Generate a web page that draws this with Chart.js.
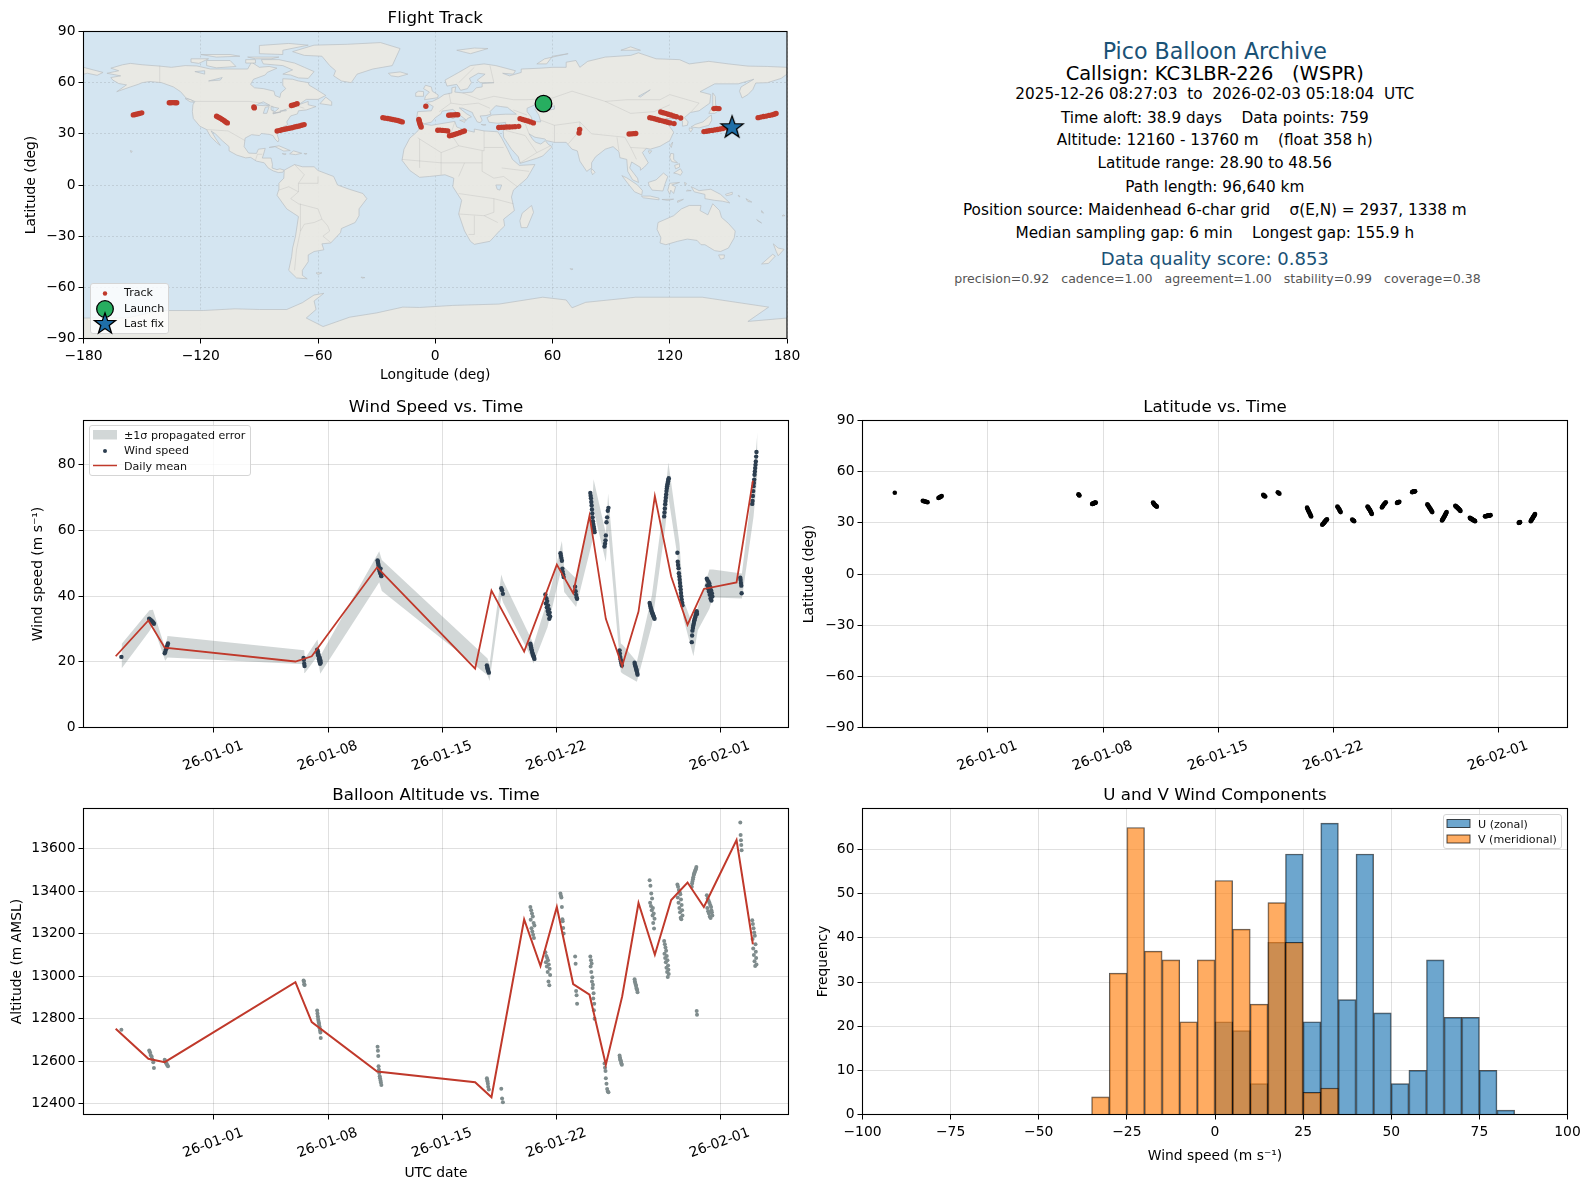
<!DOCTYPE html>
<html>
<head>
<meta charset="utf-8">
<title>Pico Balloon Archive</title>
<script src="https://cdn.jsdelivr.net/npm/chart.js@4/dist/chart.umd.js"></script>
<style>
  html, body { margin: 0; padding: 0; background: #fff; }
  body { position: relative; width: 1590px; height: 1189px; overflow: hidden; font-family: "DejaVu Sans", sans-serif; color: #000; }
  canvas { position: absolute; }
  .info { position: absolute; transform: translate(-50%, -50%); white-space: pre; }
  .legend { position: absolute; background: rgba(255,255,255,0.8); border: 1px solid #d5d5d5; border-radius: 3px; box-sizing: border-box; z-index: 5; }
  .legend span { position: absolute; font-size: 11.1px; line-height: 14px; white-space: pre; color: #111; }
  .legend svg { position: absolute; left: 0; top: 0; overflow: visible; }
</style>
</head>
<body>
<canvas id="mapChart" width="800" height="385" style="left:0;top:0"></canvas>
<canvas id="windChart" width="800" height="385" style="left:0;top:395px"></canvas>
<canvas id="latChart" width="790" height="385" style="left:800px;top:395px"></canvas>
<canvas id="altChart" width="800" height="409" style="left:0;top:780px"></canvas>
<canvas id="histChart" width="790" height="409" style="left:800px;top:780px"></canvas>

<div class="legend" style="left:90px;top:283px;width:79px;height:51px">
  <svg width="79" height="51">
    <circle cx="14" cy="9.5" r="2.2" fill="#c0392b"/>
    <circle cx="14" cy="25" r="8.3" fill="#27ae60" stroke="#000" stroke-width="1.3"/>
    <polygon points="14,29 16.6,36.4 24.5,36.6 18.2,41.4 20.5,49 14,44.5 7.5,49 9.8,41.4 3.5,36.6 11.4,36.4" fill="#1f6fa8" stroke="#000" stroke-width="1.3"/>
  </svg>
  <span style="left:33px;top:2px">Track</span>
  <span style="left:33px;top:18px">Launch</span>
  <span style="left:33px;top:33px">Last fix</span>
</div>
<div class="legend" style="left:89px;top:425px;width:162px;height:51px">
  <svg width="162" height="51">
    <rect x="3" y="4" width="24" height="9.5" fill="rgba(127,140,141,0.35)"/>
    <circle cx="15" cy="25" r="2" fill="#2c3e50"/>
    <line x1="3" y1="39.5" x2="27" y2="39.5" stroke="#c0392b" stroke-width="1.5"/>
  </svg>
  <span style="left:34px;top:3px">±1σ propagated error</span>
  <span style="left:34px;top:18px">Wind speed</span>
  <span style="left:34px;top:34px">Daily mean</span>
</div>
<div class="legend" style="left:1443px;top:814px;width:119px;height:35px">
  <svg width="119" height="35">
    <rect x="3" y="4.5" width="23" height="8" fill="rgba(31,119,180,0.65)" stroke="rgba(0,0,0,0.7)"/>
    <rect x="3" y="20" width="23" height="8" fill="rgba(255,127,14,0.65)" stroke="rgba(0,0,0,0.7)"/>
  </svg>
  <span style="left:34px;top:3px">U (zonal)</span>
  <span style="left:34px;top:18px">V (meridional)</span>
</div>

<script>
// text block, top right
const infoLines = [
  ["Pico Balloon Archive", 50.7, 22.2, "#1a5276", 1214.8],
  ["Callsign: KC3LBR-226   (WSPR)", 73, 19.44, "#000", 1214.8],
  ["2025-12-26 08:27:03  to  2026-02-03 05:18:04  UTC", 94.4, 15.28, "#000", 1214.8],
  ["Time aloft: 38.9 days    Data points: 759", 117.8, 15.28, "#000", 1214.8],
  ["Altitude: 12160 - 13760 m    (float 358 h)", 140, 15.28, "#000", 1214.8],
  ["Latitude range: 28.90 to 48.56", 163.4, 15.28, "#000", 1214.8],
  ["Path length: 96,640 km", 186.8, 15.28, "#000", 1214.8],
  ["Position source: Maidenhead 6-char grid    σ(E,N) = 2937, 1338 m", 210, 15.28, "#000", 1214.8],
  ["Median sampling gap: 6 min    Longest gap: 155.9 h", 233.4, 15.28, "#000", 1214.8],
  ["Data quality score: 0.853", 257.8, 18.05, "#1a5276", 1214.8],
  ["precision=0.92   cadence=1.00   agreement=1.00   stability=0.99   coverage=0.38", 278, 12.55, "#555", 1217.5],
];

// date axis: days counted from 2026-01-01
const dateTicks = [0, 7, 14, 21, 31];
const dateLabels = ["26-01-01", "26-01-08", "26-01-15", "26-01-22", "26-02-01"];

// samples, one line per flight segment
const sampleDays = [
  -5.65,
  -3.95, -3.9, -3.86, -3.8, -3.76, -3.7, -3.66,
  -3.0, -2.96, -2.92, -2.88, -2.84, -2.8,
  5.5, 5.52, 5.54, 5.56,
  6.33, 6.35, 6.37, 6.39, 6.41, 6.43, 6.45, 6.47, 6.49, 6.51, 6.53, 6.55,
  10.03, 10.05, 10.07, 10.09, 10.11, 10.13, 10.16, 10.18, 10.21, 10.23, 10.26,
  16.72, 16.74, 16.76, 16.78, 16.8, 16.84,
  17.6, 17.65, 17.7,
  19.38, 19.4, 19.43, 19.45, 19.48, 19.5, 19.53, 19.55, 19.58, 19.6, 19.63,
  20.3, 20.33, 20.36, 20.39, 20.41, 20.44, 20.46, 20.49, 20.51, 20.54, 20.56, 20.59,
  21.22, 21.25, 21.28, 21.31, 21.34, 21.36, 21.39, 21.42,
  22.12, 22.15, 22.18, 22.21, 22.24,
  23.05, 23.07, 23.09, 23.11, 23.13, 23.15, 23.17, 23.19, 23.21, 23.23, 23.25, 23.27, 23.29, 23.31,
  23.92, 23.95, 23.98, 24, 24.04, 24.08, 24.12, 24.16,
  24.84, 24.86, 24.88, 24.9, 24.93, 24.95, 24.98,
  25.76, 25.78, 25.8, 25.83, 25.85, 25.87, 25.89, 25.92, 25.94,
  26.68, 26.71, 26.73, 26.76, 26.78, 26.81, 26.83, 26.86, 26.88, 26.9, 26.93, 26.95, 26.98,
  27.57, 27.59, 27.61, 27.63, 27.65, 27.67, 27.69, 27.71, 27.73, 27.75, 27.77, 27.79, 27.81, 27.83, 27.85,
  28.38, 28.4, 28.42, 28.45, 28.47, 28.5, 28.52, 28.54, 28.56, 28.58, 28.6, 28.62, 28.64, 28.67, 28.69,
  29.26, 29.28, 29.3, 29.33, 29.35, 29.38, 29.4, 29.42, 29.44, 29.47, 29.49, 29.52, 29.54, 29.56, 29.58,
  30.18, 30.21, 30.23, 30.26, 30.29, 30.31, 30.34, 30.36, 30.39, 30.41, 30.44, 30.46, 30.49, 30.52,
  32.23, 32.25, 32.27, 32.29, 32.31,
  32.96, 32.98, 33, 33.02, 33.04, 33.06, 33.08, 33.1, 33.12, 33.14, 33.16, 33.18, 33.2, 33.22,
];
const sampleWind = [
  21.5,
  33.1, 32.9, 32.7, 32.5, 32.2, 32.0, 31.6,
  22.6, 23.1, 23.8, 24.4, 25.0, 25.6,
  21.2, 20.6, 19.4, 18.7,
  23.7, 22.8, 23.2, 21.9, 22.3, 20.9, 21.5, 20.1, 21.2, 19.4, 20.5, 19.7,
  50.9, 50.4, 49.9, 49.3, 48.7, 48.2, 47.6, 47.1, 48.4, 46.6, 46.1,
  18.9, 18.4, 18, 17.6, 17.2, 16.7,
  42.4, 41.8, 40.7,
  25.5, 25, 24.4, 23.8, 23.3, 22.8, 22.4, 22, 21.7, 21.3, 20.9,
  40.5, 37.8, 39.4, 36.6, 38.5, 35.5, 37.2, 34.5, 36, 33.1, 35, 33.8,
  53.1, 52.3, 51.6, 50.8, 48.4, 47.4, 46.6, 45.8,
  42.9, 41.5, 40.4, 39.6, 39.2,
  71.4, 70.6, 69.8, 68.7, 67.6, 66.4, 65.2, 64, 62.8, 62, 61.3, 60.7, 60.1, 59.5,
  55.1, 56, 57, 58.5, 62.5, 64, 66, 66.9,
  23.5, 22.5, 21.5, 20.8, 20.2, 19.5, 18.9,
  19.7, 19.2, 18.8, 18.4, 18, 17.6, 17.2, 16.6, 16.1,
  37.9, 37.3, 36.8, 36.3, 35.8, 35.4, 35, 34.7, 34.4, 34.1, 33.8, 33.5, 33.1,
  64.3, 65.5, 66.7, 68, 69, 70, 71, 72, 72.8, 73.5, 74, 74.5, 75, 75.5, 75.9,
  53.2, 50.5, 49.5, 48.5, 47, 46, 45, 44, 43, 42, 41, 40, 39, 38, 37.2,
  26, 28, 29.5, 30.3, 31, 31.6, 32.2, 32.7, 33.1, 33.5, 34, 34.4, 35, 35.4, 34.6,
  45.3, 43.3, 44.8, 42.3, 44.3, 41.4, 43.8, 40.4, 42.8, 39.3, 41.8, 38.7, 40.9, 39.9,
  45.6, 44.9, 44, 43.2, 40.9,
  68.1, 69, 70.5, 72, 73.5, 74.5, 75.5, 77, 78, 79, 80, 81, 82.5, 83.9,
];
const sampleAlt = [
  12748,
  12651, 12642, 12630, 12622, 12610, 12595, 12568,
  12607, 12600, 12592, 12588, 12582, 12577,
  12980, 12975, 12962, 12958,
  12839, 12825, 12812, 12800, 12790, 12782, 12775, 12765, 12755, 12745, 12735, 12709,
  12668, 12650, 12625, 12577, 12560, 12545, 12530, 12520, 12510, 12500, 12489,
  12520, 12512, 12505, 12495, 12480, 12467,
  12471, 12425, 12408,
  13325, 13265, 13310, 13225, 13295, 13210, 13280, 13195, 13250, 13179, 13238,
  13113, 13065, 13095, 13045, 13085, 13020, 13075, 12975, 13055, 12957, 13035, 13005,
  13388, 13378, 13370, 13325, 13267, 13258, 13226, 13200,
  13093, 13059, 12930, 12910, 12871,
  13093, 13045, 13075, 13020, 13060, 12975, 12995, 12945, 12960, 12895, 12920, 12840, 12870, 12800,
  12590, 12570, 12555, 12520, 12495, 12470, 12458, 12455,
  12627, 12618, 12610, 12605, 12598, 12590, 12584,
  12985, 12975, 12968, 12960, 12955, 12945, 12940, 12935, 12925,
  13451, 13345, 13425, 13330, 13388, 13310, 13365, 13285, 13320, 13250, 13295, 13224, 13270,
  13165, 13105, 13150, 13085, 13135, 13065, 13120, 13040, 13095, 13020, 13075, 12996, 13050, 13030, 13010,
  13431, 13370, 13420, 13345, 13405, 13320, 13395, 13300, 13385, 13275, 13360, 13267, 13335, 13310, 13285,
  13420, 13435, 13445, 13455, 13465, 13475, 13480, 13485, 13490, 13495, 13500, 13505, 13513, 12836, 12819,
  13380, 13320, 13365, 13305, 13355, 13295, 13345, 13280, 13335, 13274, 13325, 13310, 13300, 13285,
  13722, 13663, 13639, 13616, 13592,
  13263, 13175, 13245, 13130, 13225, 13100, 13205, 13070, 13190, 13048, 13150, 13115, 13085, 13055,
];
const sampleLat = [
  47.6,
  42.9, 42.8, 42.6, 42.5, 42.4, 42.2, 42.1,
  44.6, 44.8, 45, 45.2, 45.4, 45.7,
  46.7, 46.5, 46.2, 46,
  41, 41.1, 41.2, 41.3, 41.4, 41.5, 41.6, 41.7, 41.7, 41.8, 41.8, 41.9,
  41.9, 41.6, 41.3, 41, 40.7, 40.5, 40.3, 40.1, 39.9, 39.7, 39.5,
  46.4, 46.2, 46, 45.8, 45.6, 45.4,
  47.9, 47.5, 47.1,
  38.9, 38.4, 37.8, 37.3, 36.8, 36.3, 35.8, 35.3, 34.7, 34.2, 33.7,
  28.9, 29.2, 29.5, 29.8, 30.1, 30.4, 30.7, 31, 31.3, 31.6, 31.8, 32,
  39.6, 39.1, 38.7, 38.2, 37.8, 37.3, 36.8, 36.3,
  31.9, 31.6, 31.4, 31.2, 31,
  39.6, 39.3, 39, 38.7, 38.4, 38.1, 37.8, 37.5, 37.2, 36.8, 36.4, 36, 35.6, 35.2,
  39, 39.4, 39.8, 40.2, 40.7, 41.1, 41.6, 42,
  41.7, 41.8, 41.9, 42, 42.1, 42.2, 42.3,
  48, 48.1, 48.2, 48.3, 48.3, 48.4, 48.4, 48.5, 48.56,
  40.8, 40.4, 40.1, 39.7, 39.3, 38.9, 38.5, 38.2, 37.9, 37.5, 37.1, 36.7, 36.3,
  31.4, 31.7, 32, 32.3, 32.7, 33, 33.3, 33.7, 34, 34.4, 34.8, 35.2, 35.5, 35.9, 36.3,
  40, 39.8, 39.6, 39.4, 39.2, 39, 38.8, 38.6, 38.4, 38.2, 38, 37.8, 37.6, 37.3, 37,
  33, 32.8, 32.6, 32.5, 32.3, 32.2, 32, 31.9, 31.8, 31.6, 31.5, 31.4, 31.2, 31.1, 31,
  33.8, 33.9, 33.9, 34, 34, 34.1, 34.1, 34.2, 34.2, 34.3, 34.3, 34.4, 34.4, 34.5,
  30, 30.1, 30.2, 30.3, 30.4,
  31, 31.3, 31.6, 31.9, 32.2, 32.6, 32.9, 33.2, 33.5, 33.8, 34.1, 34.4, 34.8, 35.2,
];

// daily means
const meanDays = [-6, -4, -3, 5, 6, 10, 16, 17, 19, 20, 21, 22, 23, 24, 25, 26, 27, 28, 29, 30, 32, 33];
const meanWind = [21.7, 32.6, 24.3, 20.1, 21.7, 48.8, 17.9, 41.7, 23.1, 36.3, 49.6, 40.9, 64.5, 33.1, 18.7, 35.3, 70.5, 46.0, 31.3, 42.2, 44.2, 75.2];
const meanAlt = [12753, 12612, 12596, 12972, 12784, 12552, 12502, 12431, 13267, 13048, 13325, 12963, 12913, 12584, 12905, 13344, 13101, 13358, 13440, 13325, 13640, 13150];

// +-1 sigma band around the wind samples
const bandDays = [-5.64, -3.93, -3.72, -2.97, -2.83, 5.54, 5.58, 6.35, 6.52, 10.13, 10.29, 16.76, 16.88, 17.6, 17.72, 19.47, 19.57, 20.43, 20.63, 21.31, 21.45, 22.18, 23.16, 23.25, 24.0, 24.14, 24.92, 25.04, 25.9, 26.82, 27.63, 27.83, 28.51, 28.75, 29.36, 29.63, 30.34, 30.55, 32.33, 33.04, 33.28];
const bandHigh = [25.4, 35.7, 35.9, 24.1, 27.9, 23.5, 21.0, 26.8, 21.8, 53.7, 51.0, 21.0, 19.0, 46.6, 44.7, 26.6, 25.1, 38.8, 42.3, 56.8, 48.9, 45.4, 67.2, 75.6, 59.1, 71.3, 25.6, 25.1, 20, 40.3, 71.3, 80.7, 56, 38.8, 30.6, 36.7, 48.1, 48.1, 46.9, 76.3, 89.9];
const bandLow = [18.0, 29.4, 31.2, 20.3, 21.3, 19.3, 16.6, 21.7, 16.4, 44.2, 41.6, 15.9, 14.2, 39.8, 38.0, 21.0, 19.5, 30.5, 34.7, 48.9, 41.3, 36.7, 56.5, 66.2, 50.4, 60.1, 16.9, 16.4, 13.9, 31.2, 60.6, 70.2, 47.9, 33.2, 21.7, 29.6, 36.2, 39.6, 39.3, 64.2, 77.4];

// flight track on the map
const trackLon = [
  -154.5, -153.5, -152.5, -151.4, -150.2,
  -136.1, -135.2, -134.2, -133.2, -132.3,
  -111.9, -111, -110, -109, -108, -107.2, -106.4,
  -92.8, -92.6,
  -73.6, -72.6, -71.6, -70.7,
  -80.9, -79.6, -78.4, -77.1, -75.9, -74.6, -73.3, -72, -70.8, -69.6, -68.3, -67.1,
  -26.8, -25.6, -24.3, -23, -21.8, -20.5, -19.2, -18, -16.9,
  -8.4, -8.2, -8, -7.8, -7.5, -7.2,
  -4.8,
  1.3, 2.5, 3.8, 5.1, 6.4, 7.3, 8.5, 9.8, 11, 12.5, 13.8, 14.9,
  6.9, 8, 9.2, 10.4, 11.5,
  32.5, 33.8, 35.2, 36.6, 38, 39.4, 40.8, 42.7,
  43.4, 44.7, 46, 47.4, 48.8, 50.2,
  73.6, 73.9,
  99.2, 100.4, 101.5, 102.6,
  109.8, 111, 112.2, 113.5, 114.8, 116.2, 117.5, 118.8, 120.2, 122.2,
  115.4, 116.6, 117.9, 119.2, 120.6, 122, 123.4, 125.6,
  142.6, 143.9, 145.2,
  137.5, 138.9, 140.2, 141.6, 143, 144.4, 145.8, 147.2, 149.4,
  165.2, 166.6, 168, 169.4, 170.8, 172.2, 173.4, 174.4,
];
const trackLat = [
  41.1, 41.3, 41.6, 41.9, 42.3,
  48.2, 48.2, 48.3, 48.2, 48.2,
  40.3, 39.7, 39.1, 38.4, 37.7, 37, 36.4,
  45.7, 45.2,
  46.6, 46.9, 47.3, 47.7,
  31.7, 32, 32.4, 32.7, 33, 33.3, 33.6, 34, 34.3, 34.6, 35, 35.4,
  39.5, 39.2, 39, 38.7, 38.4, 38.1, 37.8, 37.4, 37,
  38.4, 37.5, 36.6, 35.8, 34.9, 34,
  46.2,
  32.1, 32.2, 32, 31.9, 31.7, 28.9, 29.2, 29.6, 30.1, 30.6, 31.2, 31.7,
  40.9, 41, 41.1, 41.2, 41.2,
  33.7, 33.8, 33.9, 34, 34, 34.1, 34.2, 34.4,
  38.9, 38.4, 38, 37.5, 37, 36.4,
  30.5, 32.6,
  29.9, 30, 30.1, 30.2,
  39.5, 39.2, 38.8, 38.4, 38, 37.6, 37.2, 36.8, 36.4, 36,
  42.8, 42.4, 42, 41.5, 41, 40.5, 40, 39.3,
  44.8, 44.9, 44.8,
  31.3, 31.5, 31.8, 32, 32.3, 32.5, 32.8, 33.1, 33.4,
  39.5, 39.8, 40.2, 40.4, 40.8, 41.1, 41.5, 41.9,
];
const launchLon = [55.4];
const launchLat = [47.7];
const lastFixLon = [151.9];
const lastFixLat = [34.0];

// map axis ticks
const lonTicks = [-180, -120, -60, 0, 60, 120, 180];
const latTicks = [-90, -60, -30, 0, 30, 60, 90];
const windTicks = [0, 20, 40, 60, 80];
const altTicks = [12400, 12600, 12800, 13000, 13200, 13400, 13600];
const histXTicks = [-100, -75, -50, -25, 0, 25, 50, 75, 100];
const histYTicks = [0, 10, 20, 30, 40, 50, 60];

// histogram, 5 m/s bins
const uBinCentres = [2.5, 7.5, 12.5, 17.5, 22.5, 27.5, 32.5, 37.5, 42.5, 47.5, 52.5, 57.5, 62.5, 67.5, 72.5, 77.5, 82.5];
const uCounts = [21, 19, 7, 39, 59, 21, 66, 26, 59, 23, 7, 10, 35, 22, 22, 10, 1];
const vBinCentres = [-32.5, -27.5, -22.5, -17.5, -12.5, -7.5, -2.5, 2.5, 7.5, 12.5, 17.5, 22.5, 27.5, 32.5];
const vCounts = [4, 32, 65, 37, 35, 21, 35, 53, 42, 25, 48, 39, 5, 6];

// coastlines as [lon, lat]
const landPolygons = [
  // north america
  [[-168,65.5],[-164,66.5],[-162,67],[-166,68.5],[-160,70.5],[-156,71.3],[-150,70.5],[-141,69.7],[-135,69],[-128,70],[-122,69.8],[-115,68],[-108,68],[-100,68],[-96,68],[-94,72],[-90,69],[-85,69.5],[-81,68.5],[-86,66],[-87,64.5],[-93,62],[-94.5,59],[-92.5,57],[-88,56.5],[-82.5,55],[-82,52.5],[-79.5,51.3],[-79,54],[-76.5,56.5],[-78,58.5],[-78,62.3],[-73,62],[-70,61],[-65,60],[-64.5,58.5],[-61.5,56.5],[-56,52.5],[-60,50.2],[-66,50.2],[-70,47],[-65,49],[-65,47],[-61,46],[-66,44],[-70,43.5],[-70.5,41.7],[-74,40.5],[-76,37],[-75.5,35.3],[-79,33.5],[-81.3,31],[-80,26.5],[-80.5,25.2],[-82,27],[-83,29],[-85,29.7],[-89,30.2],[-90,29],[-94,29.5],[-97.3,27.5],[-97.8,22.5],[-95.5,18.7],[-91.5,18.5],[-90.5,21],[-87,21.5],[-88,17.5],[-88.5,15.8],[-84,15.8],[-83.3,12],[-83.5,10],[-81,9],[-79.5,9.5],[-77.3,8.7],[-78,7.5],[-80.3,7.3],[-83,8.3],[-85.5,10],[-87.5,13],[-91.5,14],[-94.5,16.2],[-97,15.9],[-101.5,17.5],[-105.5,20],[-105.5,22.5],[-109,26],[-112.5,30],[-114.7,31.7],[-112.5,27.5],[-110,23.2],[-112,25],[-115,28.5],[-117,32.5],[-120.5,34.5],[-123.8,39],[-124.3,43],[-124,47],[-123,49],[-127.5,51],[-130.3,54.7],[-134,57.5],[-140,60],[-146,60.7],[-150,60],[-152,59],[-156,57.5],[-163,54.7],[-158,58.7],[-162,59.5],[-165,61.5],[-166,63],[-161,64],[-168,65.5]],
  // arctic canada, greenland
  [[-80,73.5],[-72,71.5],[-67,69],[-62,66.5],[-65,62.5],[-70,62.8],[-74,64.5],[-78,65],[-73,67.5],[-78,70],[-88,71],[-89,73.5],[-80,73.5]],
  [[-117,73],[-105,73],[-102,69.5],[-112,68.7],[-117,70],[-117,73]],
  [[-125,74],[-116,74],[-121,71.3],[-125,72],[-125,74]],
  [[-90,77],[-78,76.5],[-78,79],[-65,82],[-75,83],[-90,81.8],[-90,77]],
  [[-96,75],[-80,75],[-84,74],[-92,74],[-96,75]],
  [[-120,76.5],[-105,76.5],[-100,75.5],[-112,75],[-120,76.5]],
  [[-97,73.5],[-92,73.5],[-92,71.5],[-97,71.5]],
  [[-73,78.2],[-67,76],[-58,75.5],[-54,70],[-51,67],[-52,64],[-48,61],[-43,60],[-40,65],[-32,68],[-22,70],[-20,75],[-18,80],[-28,83.5],[-45,82.5],[-62,82],[-73,78.2]],
  [[-59,47.7],[-53,46.7],[-53,48.8],[-56,51.5],[-59,47.7]],
  [[-128,50.7],[-125,50],[-123.5,48.5],[-125.5,48.8]],
  // caribbean, hawaii, chukotka tip
  [[-85,22],[-80,23],[-74.2,20.2],[-77.5,19.9],[-82,22.5],[-85,22]],
  [[-74.5,18.3],[-72.5,20],[-68.3,18.6],[-71.5,17.8]],
  [[-78.3,18.4],[-76.3,18.2],[-77,17.8]],
  [[-67.2,18.5],[-65.6,18.4],[-66.5,18]],
  [[-156,20.2],[-155,19.7],[-155.7,19]],
  [[-180,69],[-175,67.5],[-170,66],[-173,64.3],[-178,65.5],[-180,65]],
  // south america
  [[-77.3,8.7],[-72,12],[-68,10.7],[-62,10.7],[-60,8.5],[-52,5],[-50,0],[-44,-2.5],[-37,-5],[-35,-8],[-39,-14],[-39,-18],[-41,-22],[-48,-25.5],[-48.5,-28],[-53.5,-34],[-58,-34.5],[-57,-38],[-62,-39],[-65,-41],[-65,-45],[-68,-50],[-68,-53],[-65.5,-55],[-71,-54.5],[-75,-50],[-73.5,-42],[-73,-37],[-71.5,-30],[-70,-18.5],[-76,-14],[-81,-6],[-80,-2.5],[-80,1],[-77.5,4],[-77.3,8.7]],
  [[-61,-51.5],[-58,-51.5],[-60,-52.5]],
  // africa, madagascar
  [[-6,35.8],[-2,35],[10,37.3],[11,34],[15,32.3],[20,31],[20,32.8],[25,31.7],[32,31.2],[34,27.5],[37,21],[39.5,15],[43,11.5],[51,12],[47,4],[40,-3],[39,-7],[40.5,-15],[35,-20],[35.5,-24],[32.8,-27],[28,-33],[20,-34.8],[18,-33],[15,-27],[12,-17],[13.5,-9],[9,-1],[9.5,4],[5,6],[-3,5],[-8,4.5],[-13,8.5],[-17,14.5],[-16,21],[-13,27.5],[-9.5,31],[-6,35.8]],
  [[49.3,-12],[50.3,-16],[47,-25],[44,-25],[43.3,-21],[44.5,-16.5],[49.3,-12]],
  // eurasia
  [[-5.5,36],[-9,37],[-9.5,39],[-9,43],[-2,43.5],[-1,46],[-4.5,48.5],[-1.5,49],[2,51],[4.5,53],[8.5,54],[8.5,57],[10.5,57.5],[10,54.5],[14,54],[19,54.5],[21,57],[24,57.5],[24,59.5],[30,60],[23,60],[21.5,61.5],[25.5,65],[22,65.5],[17.5,62.5],[18.5,60],[16.5,56.5],[13,55.5],[11,59],[6,58],[5,61.5],[12,66],[18,70],[25,71],[31,70],[41,67],[40,65],[34.5,65.5],[38,64],[44,66],[44,68],[54,68.5],[60,69],[67,69],[67,72],[72,73],[74,69],[78,72.5],[87,75],[100,76],[104,77.5],[113,74],[125,73.5],[130,71],[140,72.5],[150,71],[160,69.7],[170,69.5],[180,69],[180,65],[177,62.5],[170,60],[164,59.8],[162.5,56],[160,53],[157,51],[155.7,55],[156.5,57.5],[163,62],[155,59.3],[143,59.3],[135.5,54.7],[141,53],[140.5,48],[135,43.5],[130.5,42.5],[127.5,39.5],[129.4,37],[129,35],[126.5,34.5],[126.5,37.5],[124.5,40],[121.5,39],[118,39],[120,37.5],[122.5,37],[119.5,35],[122,31],[120,26],[115,22.7],[110,21],[108,21.5],[106,19],[109,13],[107,10.5],[105,8.7],[105,10.3],[100.5,13.5],[99.5,10],[103.5,4],[104,1.5],[101,3],[98.5,8],[98,15],[94.5,16],[94,19.5],[91,22.5],[87,21],[82,16.5],[80,13],[80,10],[77.5,8],[74,14],[72.7,20],[70,21],[67,25],[61,25],[57,26],[56,27],[51,28],[48,30],[50,26.5],[51.5,25],[54,24],[56.3,26],[58,23.7],[59.8,22.5],[55,17],[52,15.7],[43.5,12.7],[42.5,16.5],[39,21],[35,28],[34.8,31.5],[36,34],[36,36.7],[32,36.2],[27.5,36.8],[26.5,39.5],[29,41],[31,41.2],[36,41.5],[41.5,41.5],[38,44.5],[37,45.5],[33.5,46],[31,46.5],[28,43],[28.5,41.5],[26,40.7],[23,40.5],[24,38],[23,36.5],[21.5,37],[19.5,41],[19,42.5],[14,45],[12.3,45.2],[16,41.8],[18.5,40],[16.5,39],[16,38],[12.5,41],[9,44.3],[3.5,43.3],[3,41.8],[0,39.5],[-2,36.8],[-5.5,36]],
  // europe islands
  [[-5.5,50],[1.3,51.2],[1.5,52.8],[-1.5,55],[-2,57.5],[-5,58.5],[-6,56.5],[-3,54.5],[-5,52],[-5.5,50]],
  [[-10,52],[-6,52],[-6,54.8],[-8.5,55],[-10,54],[-10,52]],
  [[-24,65.5],[-18,66.3],[-14,65],[-19,63.4],[-22.5,64],[-24,65.5]],
  [[11,79],[20,80.3],[27,80],[18,77],[11,79]],
  [[52,71],[56,74],[68,77],[60,75.5],[57,71],[52,71]],
  [[95,79],[105,79],[100,81]],
  [[8.3,41],[9.7,41],[9.5,39],[8.5,39]],
  [[12.5,38],[15.5,38.2],[15,36.7]],
  [[23.5,35.5],[26,35.3],[24.8,35]],
  [[32.4,35],[34.5,35.5],[33.5,34.6]],
  // east asia islands
  [[130.9,34],[135,33.5],[140,35],[141.5,38],[141.3,41],[140,40],[137,37],[133,35.5],[130.9,34]],
  [[140,42],[141.5,45.3],[145,43.5],[143,42],[140,42]],
  [[130,33.5],[131.8,33],[130.7,31],[130,32.5]],
  [[142,54],[143.3,52],[143.5,46.5],[142,46],[142,50],[142,54]],
  [[120.2,23],[121.5,25.2],[120.8,22]],
  [[109,20],[110.8,20],[109.7,18.3]],
  [[120.5,18.5],[122,18.3],[122,15],[124,13],[121,13.7],[120,16],[120.5,18.5]],
  [[122,7],[125.5,9.5],[126.5,7.5],[125.5,5.7],[124,6.5],[122,7]],
  [[122.5,11.5],[125,12.5],[125,10.5],[123,9.5]],
  [[80,9.7],[81.8,7.5],[80.5,6],[79.8,8],[80,9.7]],
  // indonesia, new guinea
  [[109,1.5],[113,3],[116.8,7],[119,5],[117.7,1],[116.5,-3.5],[111,-3],[109.5,-0.5],[109,1.5]],
  [[95.5,5.5],[98,4.2],[103.5,0],[106,-3.2],[105.7,-5.8],[102,-4],[98.5,1],[95.5,5.5]],
  [[105.5,-6.5],[110,-6.5],[114.5,-7.7],[114.5,-8.7],[106.5,-7.5]],
  [[120,1],[125,1.5],[121,0],[123,-1],[122,-5],[120.5,-3],[120,-5.5],[119,-3],[120,1]],
  [[131,-1],[135,-3.3],[141,-2.5],[146,-5.5],[150.7,-10.5],[147,-9.5],[143,-9],[138,-8],[138,-5.5],[132.5,-4],[131,-1]],
  [[148.5,-5.5],[152,-4.2],[152,-5.5],[149,-6.3]],
  [[155,-6],[156,-6.7],[155.5,-7]],
  [[159,-8],[162,-10],[160,-9.7]],
  [[116,-8.5],[122,-8.3],[119,-9]],
  [[124,-9.3],[127,-8.4],[124,-10.2]],
  [[127.5,1.5],[128.5,1],[128,-0.5]],
  [[129,-3],[131,-3.3],[128.5,-3.5]],
  [[165,-21],[167,-22.3],[164.5,-20.3]],
  [[167,-15],[168,-16.5],[167,-16]],
  [[178,-17.5],[179,-18],[177.5,-18.2]],
  // australia, new zealand
  [[114,-22],[122,-18],[126,-14],[130,-12],[136,-12],[135.5,-15],[139.5,-17.5],[142,-11],[145.5,-15],[146.5,-19],[150,-22.5],[153.5,-27],[153,-31],[150,-37],[146,-39],[143,-38.5],[138,-35],[136,-35],[134,-32.5],[129,-31.7],[124,-33],[118,-35],[115,-34],[115.5,-31],[113.5,-26],[114,-22]],
  [[145,-41],[148,-41],[147.8,-43],[146,-43.5],[145,-41]],
  [[173,-34.5],[175.5,-37],[178.5,-37.7],[175.5,-41.5],[174.5,-39],[173,-34.5]],
  [[172.7,-40.6],[174,-41.7],[170.5,-46],[167,-46.3],[172.7,-40.6]],
  [[69,-49],[70.5,-49.3],[69.5,-49.7]],
  [[-38,-54],[-36,-54.3],[-37.5,-54.6]],
  // antarctica
  [[-180,-78],[-158,-78],[-150,-76],[-142.5,-73.6],[-118.7,-73.6],[-102.5,-72.6],[-90,-73],[-76,-73],[-68,-69],[-62,-64.5],[-57,-63.5],[-62,-68],[-61,-73],[-66,-78],[-57.4,-83],[-43.8,-77.5],[-30,-75],[-16.6,-71.6],[-8,-71.8],[9,-70.6],[32.7,-69.8],[55,-65.8],[67,-67.4],[70,-72],[77,-68.8],[102.6,-65.8],[136.6,-65.8],[170.6,-71.6],[160,-80],[180,-78],[180,-90],[-180,-90]],
];
const lakePolygons = [
  [[47,45],[51,47],[53,46],[51,44.5],[53,41],[54,37],[50,37.2],[49,40],[47,43],[47,45]],
  [[58.5,45.5],[61,46.5],[61,44.5],[58.5,44]],
  [[-92,46.8],[-88,48.8],[-84.7,46.8],[-87,46.5],[-92,46.8]],
  [[-88,42],[-87,45.5],[-85,46],[-86.2,42],[-88,42]],
  [[-84,46],[-80,45],[-82,43],[-84,44],[-84,46]],
  [[-83,41.7],[-79,42.8],[-83,42.3]],
  [[-79.5,43.3],[-76.2,43.5],[-76.5,44.2]],
  [[-123,66.5],[-118,67],[-118,65]],
  [[-116,61],[-109,63],[-110,61.5]],
  [[104,52],[110,55.8],[109,55],[105,51.6]],
  [[31,0],[34,0],[33,-3],[31.7,-2.5]],
];
const borderLines = [
  [[-123,49],[-95,49],[-89,48],[-83,46],[-83,42],[-79,43],[-75,45],[-70,46],[-67,45]],
  [[-141,70],[-141,60]],
  [[-117,32.5],[-106,31.7],[-97.3,26]],
  [[-92,14.5],[-91,18],[-88.5,18]],
  [[-60,5],[-60,1],[-70,1],[-70,-4],[-74,-8],[-70,-11],[-60,-14],[-58,-20],[-55,-24],[-54,-27],[-57.5,-30],[-53.5,-33.7]],
  [[-69,-18],[-69,-27],[-71,-38],[-72,-50]],
  [[-72,12],[-67,6],[-70,1]],
  [[-69,-11],[-69,-18]],
  [[-62,-22],[-58,-20]],
  [[-62,-22],[-67,-23],[-69,-27]],
  [[-80,-3],[-75,-1],[-70,-4]],
  [[-9,27.7],[3,19],[12,23],[25,20],[25,31.7]],
  [[24,20],[24,8],[30,4],[35,5],[42,-1]],
  [[12,5],[15,13],[24,13]],
  [[12,-5],[30,-8],[40,-11]],
  [[12,-17],[25,-18],[32,-22]],
  [[-17,15],[3,13],[15,13]],
  [[3,19],[3,13],[3,6]],
  [[-8,27],[-8,10]],
  [[10,37],[8,30],[12,23]],
  [[35,22],[25,22]],
  [[34,10],[48,8]],
  [[30,-8],[30,-16],[25,-18]],
  [[20,-18],[20,-29],[17,-29]],
  [[47,50],[60,51],[70,55],[87,49],[98,50],[115,50],[120,53],[135,48],[131,43]],
  [[87,49],[100,42],[112,43],[120,47]],
  [[74,37],[80,30],[97,28],[100,22],[108,21.5]],
  [[45,39],[48,30]],
  [[61,25],[61,35],[74,37]],
  [[61,35],[54,38]],
  [[68,24],[74,32],[74,37]],
  [[36,32],[46,29],[52,19],[59,23]],
  [[43,12.7],[52,19]],
  [[2,43],[8,48],[7,54]],
  [[14,54],[23,50],[30,52],[40,50]],
  [[22,48],[28,45]],
  [[8,48],[14,47],[22,48]],
  [[30,60],[28,70]],
  [[12,60],[20,69]],
  [[40,50],[47,50]],
  [[40,44],[47,41]],
  [[93,28],[94,20]],
  [[100,22],[103,15]],
];

const FONT_FAMILY = "'DejaVu Sans', sans-serif";
const TICK_SIZE = 13.89;
const GRID = "rgba(0,0,0,0.12)";

Chart.defaults.font.family = FONT_FAMILY;
Chart.defaults.color = "#000";
Chart.defaults.animation = false;
Chart.defaults.plugins.legend.display = false;
Chart.defaults.plugins.tooltip.enabled = false;

infoLines.forEach(([text, y, size, color, x]) => {
  const el = document.createElement("div");
  el.className = "info";
  el.textContent = text;
  el.style.left = x + "px";
  el.style.top = y + "px";
  el.style.fontSize = size + "px";
  el.style.color = color;
  document.body.appendChild(el);
});

const toPoints = (xs, ys) => xs.map((x, i) => ({ x: x, y: ys[i] }));
const minusSign = (v) => String(v).replace("-", "\u2212");

// spines on all four sides
const framePlugin = {
  id: "frame",
  afterDraw(chart) {
    const { ctx, chartArea: a } = chart;
    ctx.save();
    ctx.strokeStyle = "#000";
    ctx.lineWidth = 1.1;
    ctx.strokeRect(a.left, a.top, a.right - a.left, a.bottom - a.top);
    ctx.restore();
  },
};

const landPlugin = {
  id: "land",
  beforeDraw(chart) {
    const { ctx, chartArea: a } = chart;
    ctx.save();
    ctx.fillStyle = "#d4e5f1";
    ctx.fillRect(a.left, a.top, a.right - a.left, a.bottom - a.top);
    ctx.restore();
  },
  beforeDatasetsDraw(chart) {
    const { ctx, chartArea: a, scales } = chart;
    const trace = (pts) => {
      ctx.beginPath();
      pts.forEach(([lon, lat], i) => {
        const px = scales.x.getPixelForValue(lon);
        const py = scales.y.getPixelForValue(lat);
        if (i === 0) ctx.moveTo(px, py);
        else ctx.lineTo(px, py);
      });
    };
    ctx.save();
    ctx.beginPath();
    ctx.rect(a.left, a.top, a.right - a.left, a.bottom - a.top);
    ctx.clip();
    ctx.lineWidth = 0.7;
    ctx.strokeStyle = "#b9bfc3";
    ctx.fillStyle = "rgba(234,233,227,0.92)";
    landPolygons.forEach((p) => { trace(p); ctx.closePath(); ctx.fill(); ctx.stroke(); });
    ctx.fillStyle = "#d4e5f1";
    lakePolygons.forEach((p) => { trace(p); ctx.closePath(); ctx.fill(); ctx.stroke(); });
    ctx.lineWidth = 0.5;
    ctx.strokeStyle = "rgba(170,170,170,0.55)";
    borderLines.forEach((p) => { trace(p); ctx.stroke(); });
    ctx.restore();
  },
};

// plot area is pinned in page pixels so the panels line up
function panelOptions(panel) {
  const { canvas, plot, title, xTitle, xTitleFromBottom, yTitle, yTitleFromLeft } = panel;
  const titleLine = 16.67 * 1.2;
  const titleGap = 3;
  return {
    responsive: false,
    layout: { padding: { right: canvas.left + canvas.width - plot.right } },
    plugins: {
      title: {
        display: true,
        text: title,
        fullSize: false,
        color: "#000",
        font: { size: 16.67, weight: "normal" },
        padding: { top: plot.top - canvas.top - titleLine - titleGap, bottom: titleGap },
      },
    },
    scales: {
      x: {
        type: "linear",
        min: panel.xMin,
        max: panel.xMax,
        offset: false,
        border: { display: false, dash: panel.gridDash },
        grid: { color: panel.gridColor || GRID, tickColor: "#000", tickLength: 5, offset: false },
        ticks: Object.assign({ autoSkip: false, maxRotation: 0, minRotation: 0, padding: 5, font: { size: TICK_SIZE }, color: "#000", callback: minusSign }, panel.xTickOpts),
        title: xTitle ? { display: true, text: xTitle, color: "#000", font: { size: TICK_SIZE }, padding: { top: 0, bottom: xTitleFromBottom } } : { display: false },
        afterBuildTicks(s) { s.ticks = panel.xTicks.map((v) => ({ value: v })); },
        afterFit(s) {
          s.height = canvas.top + canvas.height - plot.bottom;
          s.paddingLeft = 0;
          s.paddingRight = 0;
        },
      },
      y: {
        type: "linear",
        min: panel.yMin,
        max: panel.yMax,
        border: { display: false, dash: panel.gridDash },
        grid: { color: panel.gridColor || GRID, tickColor: "#000", tickLength: 5 },
        ticks: { autoSkip: false, padding: 3, font: { size: TICK_SIZE }, color: "#000", callback: minusSign },
        title: { display: true, text: yTitle, color: "#000", font: { size: TICK_SIZE }, padding: { top: yTitleFromLeft, bottom: 0 } },
        afterBuildTicks(s) { s.ticks = panel.yTicks.map((v) => ({ value: v })); },
        afterFit(s) {
          s.width = plot.left - canvas.left;
          s.paddingTop = 0;
          s.paddingBottom = 0;
        },
      },
    },
  };
}

const dateTickOpts = {
  maxRotation: 20,
  minRotation: 20,
  labelOffset: 29,
  padding: 5,
  callback: (v) => dateLabels[dateTicks.indexOf(v)],
};

// filled star for the last fix, chart.js "star" is only strokes
function makeStar() {
  const c = document.createElement("canvas");
  c.width = 26;
  c.height = 26;
  const g = c.getContext("2d");
  g.beginPath();
  for (let i = 0; i < 10; i++) {
    const r = i % 2 ? 4.7 : 11.6;
    const a = -Math.PI / 2 + (i * Math.PI) / 5;
    g.lineTo(13 + r * Math.cos(a), 13.5 + r * Math.sin(a));
  }
  g.closePath();
  g.fillStyle = "#1f6fa8";
  g.fill();
  g.lineWidth = 1.3;
  g.strokeStyle = "#000";
  g.stroke();
  return c;
}

new Chart("mapChart", {
  type: "scatter",
  data: {
    datasets: [
      { data: toPoints(lastFixLon, lastFixLat), pointStyle: makeStar(), pointRadius: 12 },
      { data: toPoints(launchLon, launchLat), pointRadius: 8.3, backgroundColor: "#27ae60", borderColor: "#000", borderWidth: 1.3 },
      { data: toPoints(trackLon, trackLat), pointRadius: 2.7, backgroundColor: "#c0392b", borderWidth: 0 },
    ],
  },
  options: panelOptions({
    canvas: { left: 0, top: 0, width: 800, height: 385 },
    plot: { left: 83.5, top: 31.5, right: 788.5, bottom: 338.5 },
    title: "Flight Track",
    xTitle: "Longitude (deg)",
    xTitleFromBottom: 1,
    yTitle: "Latitude (deg)",
    yTitleFromLeft: 23,
    xMin: -180, xMax: 180, yMin: -90, yMax: 90,
    xTicks: lonTicks, yTicks: latTicks,
    gridDash: [2, 2],
    gridColor: "rgba(90,90,90,0.16)",
  }),
  plugins: [landPlugin, framePlugin],
});

new Chart("windChart", {
  type: "scatter",
  data: {
    datasets: [
      { data: toPoints(meanDays, meanWind), showLine: true, borderColor: "#c0392b", borderWidth: 1.8, pointRadius: 0 },
      { data: toPoints(sampleDays, sampleWind), pointRadius: 2.2, backgroundColor: "#2c3e50", borderWidth: 0 },
      { data: toPoints(bandDays, bandHigh), showLine: true, borderWidth: 0, pointRadius: 0, fill: "+1", backgroundColor: "rgba(127,140,141,0.35)" },
      { data: toPoints(bandDays, bandLow), showLine: true, borderWidth: 0, pointRadius: 0 },
    ],
  },
  options: panelOptions({
    canvas: { left: 0, top: 395, width: 800, height: 385 },
    plot: { left: 83.5, top: 420.5, right: 788.5, bottom: 727.5 },
    title: "Wind Speed vs. Time",
    yTitle: "Wind speed (m s\u207B\u00B9)",
    yTitleFromLeft: 30,
    xMin: -7.97, xMax: 35.18, yMin: 0, yMax: 93.5,
    xTicks: dateTicks, yTicks: windTicks,
    xTickOpts: dateTickOpts,
  }),
  plugins: [framePlugin],
});

new Chart("latChart", {
  type: "scatter",
  data: {
    datasets: [
      { data: toPoints(sampleDays, sampleLat), pointRadius: 2.3, backgroundColor: "#000", borderWidth: 0 },
    ],
  },
  options: panelOptions({
    canvas: { left: 800, top: 395, width: 790, height: 385 },
    plot: { left: 862.5, top: 420.5, right: 1567.5, bottom: 727.5 },
    title: "Latitude vs. Time",
    yTitle: "Latitude (deg)",
    yTitleFromLeft: 1,
    xMin: -7.61, xMax: 35.19, yMin: -90, yMax: 90,
    xTicks: dateTicks, yTicks: latTicks,
    xTickOpts: dateTickOpts,
  }),
  plugins: [framePlugin],
});

new Chart("altChart", {
  type: "scatter",
  data: {
    datasets: [
      { data: toPoints(meanDays, meanAlt), showLine: true, borderColor: "#c0392b", borderWidth: 2, pointRadius: 0 },
      { data: toPoints(sampleDays, sampleAlt), pointRadius: 2, backgroundColor: "#7f8c8d", borderWidth: 0 },
    ],
  },
  options: panelOptions({
    canvas: { left: 0, top: 780, width: 800, height: 409 },
    plot: { left: 83.5, top: 808.5, right: 788.5, bottom: 1114.5 },
    title: "Balloon Altitude vs. Time",
    xTitle: "UTC date",
    xTitleFromBottom: 7,
    yTitle: "Altitude (m AMSL)",
    yTitleFromLeft: 9,
    xMin: -7.97, xMax: 35.18, yMin: 12350, yMax: 13788,
    xTicks: dateTicks, yTicks: altTicks,
    xTickOpts: dateTickOpts,
  }),
  plugins: [framePlugin],
});

new Chart("histChart", {
  type: "bar",
  data: {
    datasets: [
      { data: toPoints(vBinCentres, vCounts), backgroundColor: "rgba(255,127,14,0.65)", borderColor: "rgba(0,0,0,0.65)", borderWidth: 1, grouped: false, barPercentage: 1, categoryPercentage: 1 },
      { data: toPoints(uBinCentres, uCounts), backgroundColor: "rgba(31,119,180,0.65)", borderColor: "rgba(0,0,0,0.65)", borderWidth: 1, grouped: false, barPercentage: 1, categoryPercentage: 1 },
    ],
  },
  options: panelOptions({
    canvas: { left: 800, top: 780, width: 790, height: 409 },
    plot: { left: 862.5, top: 808.5, right: 1567.5, bottom: 1114.5 },
    title: "U and V Wind Components",
    xTitle: "Wind speed (m s\u207B\u00B9)",
    xTitleFromBottom: 24,
    yTitle: "Frequency",
    yTitleFromLeft: 15,
    xMin: -100, xMax: 100, yMin: 0, yMax: 69.3,
    xTicks: histXTicks, yTicks: histYTicks,
  }),
  plugins: [framePlugin],
});
</script>
</body>
</html>
